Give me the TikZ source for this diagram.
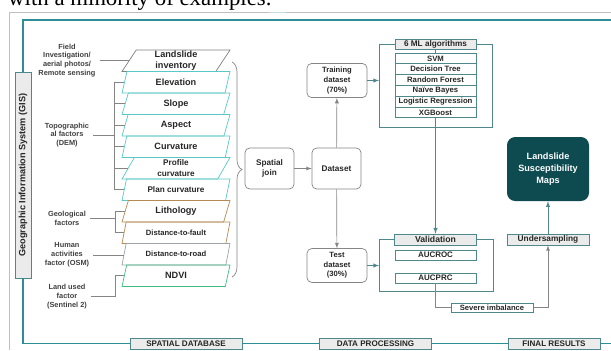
\documentclass[tikz,border=0pt]{standalone}
\usepackage{fontspec}
\setmainfont{Liberation Sans}
\newfontfamily\capfont{Liberation Serif}
\usepackage{xcolor}
\usepackage{tikz}
\usetikzlibrary{calc,arrows,shapes.geometric,decorations.pathreplacing}
\definecolor{framec}{HTML}{2E8E97}
\definecolor{cellc}{HTML}{4E878C}
\definecolor{headf}{HTML}{EBEBEB}
\definecolor{mapsc}{HTML}{0E4B51}
\definecolor{linkc}{HTML}{858585}
\definecolor{invc}{HTML}{7F7F7F}
\definecolor{topc}{HTML}{5CC7C7}
\definecolor{geoc}{HTML}{B68A52}
\definecolor{roadc}{HTML}{9CA2AA}
\definecolor{ndvic}{HTML}{3FBC80}

\begin{document}
\begin{tikzpicture}[x=0.03cm,y=-0.03cm,>=latex,
  every node/.style={text=black!85},
  lay/.style={trapezium,trapezium left angle=53.3,trapezium right angle=126.7,
    trapezium stretches body,minimum height=0.645cm,minimum width=3.24cm,
    inner sep=0pt,align=center,line width=0.6pt},
  lbl/.style={align=center,text=black!75,font=\fontsize{6.3}{7.6}\selectfont\bfseries},
  rbox/.style={draw=linkc,rounded corners=4pt,align=center,line width=0.6pt,
    font=\fontsize{7}{8.2}\selectfont\bfseries},
  cell/.style={draw=cellc,fill=white,minimum width=2.43cm,minimum height=0.324cm,
    inner sep=0pt,line width=0.6pt,font=\fontsize{6.6}{7}\selectfont\bfseries},
  band/.style={draw=cellc,fill=headf,minimum height=0.33cm,inner sep=0pt,
    line width=0.6pt,font=\fontsize{6.9}{7}\selectfont\bfseries},
  frame/.style={draw=framec,line width=1.1pt},
  link/.style={draw=linkc,line width=0.6pt},
  tlink/.style={draw=cellc,line width=0.7pt}]
\useasboundingbox (0,0) rectangle (611,350);

\node[anchor=base west,inner sep=0pt,text=black,font=\capfont\fontsize{19.5}{20}\selectfont] (cap) at (8,5) {with a minority of examples.};
\draw[black!25,line width=0.6pt] (9,350) |- (611,12);
\draw[framec!30,line width=1.2pt] (269,12.5) -- (286,12.5);

\node[band,rotate=90,minimum width=6.18cm,minimum height=0.48cm,font=\fontsize{7.8}{8}\selectfont\bfseries] (gis) at (23,175) {Geographic Information System (GIS)};
\node[band,minimum width=3.36cm] (sdb) at (186,343.5) {SPATIAL DATABASE};
\node[band,minimum width=3.36cm] (dp) at (375.5,343.5) {DATA PROCESSING};
\node[band,minimum width=2.76cm] (fr) at (554,343.5) {FINAL RESULTS};
\coordinate (tr) at (611,20);
\coordinate (br) at (611,343.5);
\draw[frame] (gis.east) |- (tr);
\draw[frame] (gis.west) |- (sdb.west);
\draw[frame] (sdb.east) -- (dp.west);
\draw[frame] (dp.east) -- (fr.west);
\draw[frame] (fr.east) -- (br);

\foreach \n/\y/\c/\s/\t in {inv/60.75/invc/7.8/{Landslide\\inventory},
  elev/82.25/topc/7.8/Elevation, slope/103.75/topc/7.8/Slope,
  asp/125.25/topc/7.8/Aspect, curv/146.75/topc/7.8/Curvature,
  prof/168.25/topc/7/{Profile\\curvature}, plan/189.75/topc/7/Plan curvature,
  lith/211.25/geoc/7.8/Lithology, fault/232.75/geoc/6.5/Distance-to-fault,
  road/254.25/roadc/6.5/Distance-to-road, ndvi/275.75/ndvic/7.8/NDVI}
  \node[lay,draw=\c,font=\fontsize{\s}{9}\selectfont\bfseries] (\n) at (176,\y) {\t};

\node[lbl] (field) at (67,60.5) {Field\\Investigation/\\aerial photos/\\Remote sensing};
\node[lbl] (topo) at (67,135) {Topographic\\al factors\\(DEM)};
\node[lbl] (geo) at (67,218) {Geological\\factors};
\node[lbl] (hum) at (67,255) {Human\\activities\\factor (OSM)};
\node[lbl] (land) at (67,296.5) {Land used\\factor\\(Sentinel 2)};
\coordinate (tbus) at (114,0);
\coordinate (gbus) at (115,0);
\draw[link] (field.east) -- (field.east -| inv.left side);
\draw[link] (topo.east) -- (topo.east -| tbus);
\draw[link] (elev.left side -| tbus) -- (plan.left side -| tbus);
\foreach \n in {elev,slope,asp,curv,prof,plan}
  \draw[link] (\n.left side -| tbus) -- (\n.left side);
\draw[link] (geo.east) -- (geo.east -| gbus);
\draw[link] (lith.left side -| gbus) -- (fault.left side -| gbus);
\foreach \n in {lith,fault}
  \draw[link] (\n.left side -| gbus) -- (\n.left side);
\draw[link] (hum.east) -- (hum.east -| road.left side);
\draw[link] (land.east) -| (gbus |- ndvi.left side) -- (ndvi.left side);
\draw[link,decorate,decoration={brace,amplitude=8.5pt}] (232,62) -- (232,277);

\node[rbox,minimum width=1.47cm,minimum height=1.23cm] (sj) at (269.5,168.5) {Spatial\\join};
\node[rbox,minimum width=1.47cm,minimum height=1.23cm] (ds) at (336.5,168.5) {Dataset};
\node[rbox,minimum width=1.8cm,minimum height=0.87cm,font=\fontsize{6.5}{8.2}\selectfont\bfseries] (train) at (337,80.5) {Training\\dataset\\(70\%)};
\node[rbox,minimum width=1.8cm,minimum height=0.93cm,font=\fontsize{6.5}{8.2}\selectfont\bfseries] (test) at (337,265.5) {Test\\dataset\\(30\%)};
\draw[link,->] (sj) -- (ds);
\draw[link,->] (ds) -- (train);
\draw[link,->] (ds) -- (test);

\node[band,minimum width=2.43cm,minimum height=0.3cm,font=\fontsize{7}{7}\selectfont\bfseries] (mlt) at (435.5,44) {6 ML algorithms};
\foreach \n/\y/\t in {m1/58.4/SVM, m2/69.2/Decision Tree, m3/80/Random Forest,
  m4/90.8/Naïve Bayes, m5/101.6/Logistic Regression, m6/112.4/XGBoost}
  \node[cell] (\n) at (435.5,\y) {\t};
\coordinate (mlbl) at (379,127);
\coordinate (mltr) at (492,44);
\draw[tlink] (mlt) -- (m1);
\draw[tlink] (mlt.west) -| (mlbl) -| (mltr) -- (mlt.east);
\draw[tlink,->] (train) -- (train -| mlbl);

\node[band,minimum width=2.46cm,font=\fontsize{7.4}{7}\selectfont\bfseries] (val) at (435.5,239.5) {Validation};
\node[cell,minimum height=0.3cm,font=\fontsize{6.8}{7}\selectfont\bfseries] (roc) at (435.5,255) {AUCROC};
\node[cell,minimum height=0.3cm,font=\fontsize{6.8}{7}\selectfont\bfseries] (prc) at (435.5,278) {AUCPRC};
\coordinate (vbl) at (379,291);
\coordinate (vtr) at (493,239.5);
\draw[tlink] (val.west) -| (vbl) -| (vtr) -- (val.east);
\draw[tlink,->] (test) -- (test -| vbl);
\draw[tlink,->] (m6) -- (val);

\node[cell,minimum width=2.46cm,minimum height=0.27cm,font=\fontsize{6.5}{7}\selectfont\bfseries] (sev) at (492,307.5) {Severe imbalance};
\node[band,minimum width=2.46cm,font=\fontsize{7.1}{7}\selectfont\bfseries] (und) at (548,239.5) {Undersampling};
\node[fill=mapsc,rounded corners=7pt,minimum width=2.46cm,minimum height=1.92cm,text=white,align=center,font=\fontsize{7.8}{10}\selectfont\bfseries] (maps) at (548,169) {Landslide\\Susceptibility\\Maps};
\draw[link] (prc) |- (sev);
\draw[link,->] (sev) -| (und);
\draw[tlink,->] (und) -- (maps);
\end{tikzpicture}
\end{document}
